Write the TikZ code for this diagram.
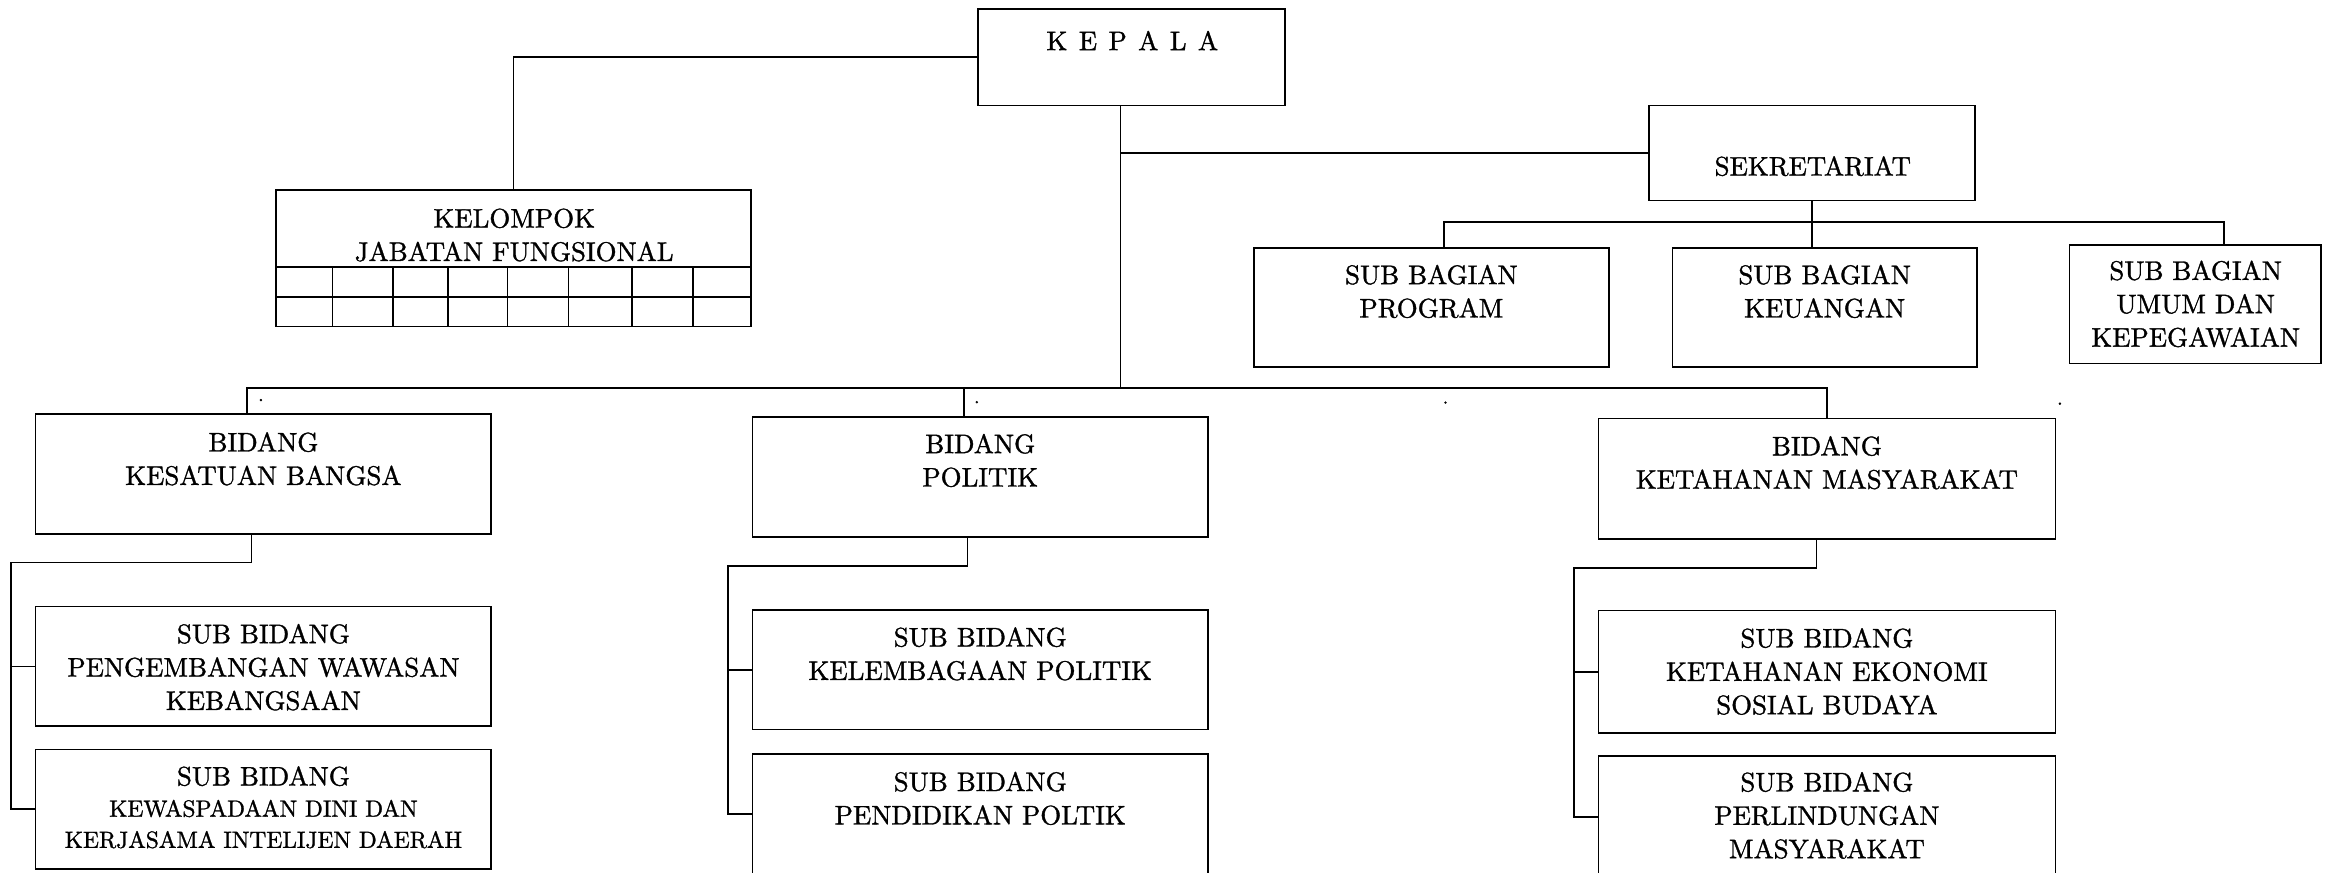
\documentclass[tikz,border=0pt]{standalone}
\font\huruf="[lmroman10-regular]:embolden=1.2" at 18.1pt
\font\hurufkecil="[lmroman10-regular]:embolden=1.2" at 15.8pt
\font\hurufttk="[lmroman10-regular]:embolden=1.2" at 14pt
\tikzset{
  kotak/.style={draw, line width=1.1pt, inner sep=0pt},
  teks/.style={font={\huruf\baselineskip=22.5pt}, align=center, inner sep=0pt},
  kecil/.style={font={\hurufkecil\baselineskip=21pt}, align=center, inner sep=0pt},
  titik/.style={font=\hurufttk, inner sep=0pt},
  garis/.style={line width=1.1pt}
}
\begin{document}
\begin{tikzpicture}[x=1pt,y=-1pt]
    \useasboundingbox (0,0) rectangle (1568,587.6);
    % kotak
    \node[kotak, minimum width=207pt, minimum height=65pt] (kepala) at (762.5,38.5) {};
    \node[kotak, minimum width=320pt, minimum height=92pt] (kelompok) at (346,174) {};
    \node[kotak, minimum width=220pt, minimum height=64pt] (sekretariat) at (1221,103) {};
    \node[kotak, minimum width=239pt, minimum height=80.5pt] (program) at (964.5,207.2) {};
    \node[kotak, minimum width=205pt, minimum height=80.5pt] (keuangan) at (1229.5,207.2) {};
    \node[kotak, minimum width=169.5pt, minimum height=80pt] (kepegawaian) at (1479.2,205) {};
    \node[kotak, minimum width=307pt, minimum height=81pt] (kesatuan) at (177.5,319.5) {};
    \node[kotak, minimum width=307pt, minimum height=81pt] (politik) at (660.5,321.5) {};
    \node[kotak, minimum width=308pt, minimum height=81pt] (ketahanan) at (1231,322.5) {};
    \node[kotak, minimum width=307pt, minimum height=80.6pt] (kessub1) at (177.5,449.1) {};
    \node[kotak, minimum width=307pt, minimum height=80.6pt] (kessub2) at (177.5,545.3) {};
    \node[kotak, minimum width=307pt, minimum height=80.6pt] (polsub1) at (660.5,451.3) {};
    \node[kotak, minimum width=307pt, minimum height=81pt] (polsub2) at (660.5,548.5) {};
    \node[kotak, minimum width=308pt, minimum height=82.5pt] (ketsub1) at (1231,452.6) {};
    \node[kotak, minimum width=308pt, minimum height=82.5pt] (ketsub2) at (1231,550.5) {};
    % teks
    \node[teks] (tkepala) at (763,27.3) {K\hspace{7.7pt}E\hspace{7.7pt}P\hspace{7.7pt}A\hspace{7.7pt}L\hspace{7.7pt}A};
    \node[teks] (tkelompok) at (346.5,158.4) {KELOMPOK\\JABATAN FUNGSIONAL};
    \node[teks] (tsekretariat) at (1221.5,112) {SEKRETARIAT};
    \node[teks] (tprogram) at (964.5,196.4) {SUB BAGIAN\\PROGRAM};
    \node[teks] (tkeuangan) at (1229.5,196.4) {SUB BAGIAN\\KEUANGAN};
    \node[teks] (tkepegawaian) at (1479.5,204.8) {SUB BAGIAN\\UMUM DAN\\KEPEGAWAIAN};
    \node[teks] (tkesatuan) at (177.5,309.2) {BIDANG\\KESATUAN BANGSA};
    \node[teks] (tpolitik) at (660.5,310.3) {BIDANG\\POLITIK};
    \node[teks] (tketahanan) at (1231,311.8) {BIDANG\\KETAHANAN MASYARAKAT};
    \node[teks] (tkessub1) at (177.5,449.6) {SUB BIDANG\\PENGEMBANGAN WAWASAN\\KEBANGSAAN};
    \node[kecil] (tkessub2) at (177.5,544) {{\huruf SUB BIDANG}\\KEWASPADAAN DINI DAN\\KERJASAMA INTELIJEN DAERAH};
    \node[teks] (tpolsub1) at (660.5,440.6) {SUB BIDANG\\KELEMBAGAAN POLITIK};
    \node[teks] (tpolsub2) at (660.5,538) {SUB BIDANG\\PENDIDIKAN POLTIK};
    \node[teks] (tketsub1) at (1231,452.5) {SUB BIDANG\\KETAHANAN EKONOMI\\SOSIAL BUDAYA};
    \node[teks] (tketsub2) at (1231,549.5) {SUB BIDANG\\PERLINDUNGAN\\MASYARAKAT};
    % titik kecil
    \node[titik] (titik1) at (175.8,269.6) {.};
    \node[titik] (titik2) at (658.2,271) {.};
    \node[titik] (titik3) at (974,271.3) {.};
    \node[titik] (titik4) at (1388,272) {.};
    % tabel jabatan fungsional
    \draw[garis] (186,180) -- (506,180) (186,200) -- (506,200);
    \foreach \x in {224,265,302,342,383,426,467} \draw[garis] (\x,180) -- (\x,220);
    % garis
    \coordinate (pusat) at (755,261.5);
    \draw[garis] (kepala.west) -| (kelompok.north);
    \draw[garis] (kepala.south -| pusat) -- (pusat);
    \draw[garis] (sekretariat.west -| pusat) -- (sekretariat.west);
    \draw[garis] (sekretariat.south) -- (sekretariat.south |- keuangan.north);
    \draw[garis] ([xshift=8.5pt]program.north) -- ++(0,-17) -| ([xshift=19.5pt]kepegawaian.north);
    \draw[garis] ([xshift=-11pt]kesatuan.north) |- (pusat) -| (ketahanan.north);
    \draw[garis] ([xshift=-11pt]politik.north) -- ([xshift=-11pt]politik.north |- pusat);
    \draw[garis] ([xshift=-8pt]kesatuan.south) -- ++(0,18.6) -| ([xshift=-16pt]kessub2.west) -- (kessub2.west);
    \draw[garis] (kessub1.west) -- ++(-16,0);
    \draw[garis] ([xshift=-8.5pt]politik.south) -- ++(0,19) -| ([xshift=-16pt]polsub2.west) -- (polsub2.west);
    \draw[garis] (polsub1.west) -- ++(-16,0);
    \draw[garis] ([xshift=-7pt]ketahanan.south) -- ++(0,19) -| ([xshift=-16pt]ketsub2.west) -- (ketsub2.west);
    \draw[garis] (ketsub1.west) -- ++(-16,0);
\end{tikzpicture}
\end{document}
